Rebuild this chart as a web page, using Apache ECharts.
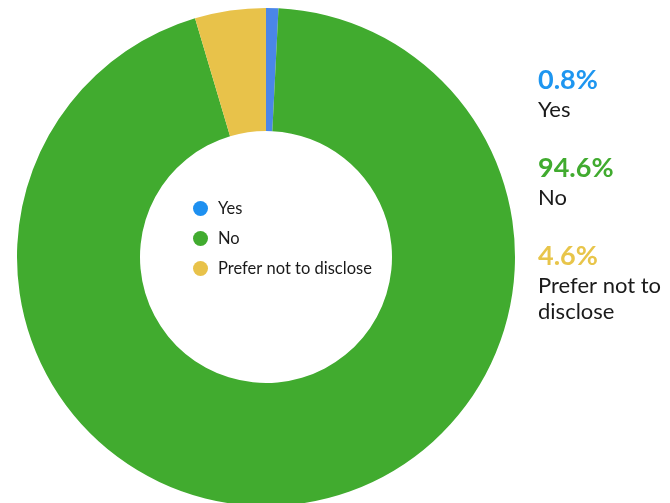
<!DOCTYPE html>
<html><head><meta charset="utf-8">
<script src="https://cdn.jsdelivr.net/npm/echarts@6/dist/echarts.min.js"></script>
<style>html,body{margin:0;padding:0;background:#fff}#c{width:670px;height:503px}</style>
</head><body><div id="c"></div>
<script>
const categories = ['Yes', 'No', 'Prefer not to disclose'];
const percents = [0.8, 94.6, 4.6];
const sliceColors = ['#4a86e8', '#41ab2f', '#e8c24a'];
const legendColors = ['#1e90f0', '#41ab2f', '#e8c24a'];
const labelColors = ['#1e96f0', '#41ab2f', '#e8c54a'];

const chart = echarts.init(document.getElementById('c'), null, {renderer: 'canvas'});
const rich = {name: {fontFamily: 'Lato', fontSize: 22, color: '#1a1a1a', lineHeight: 26}};
categories.forEach((c, i) => {
  rich['p' + i] = {fontFamily: 'Lato', fontWeight: 'bold', fontSize: 27, color: labelColors[i], lineHeight: 33};
});
chart.setOption({
  animation: false,
  legend: [
    {
      orient: 'vertical', left: 188, top: 195, icon: 'circle',
      itemWidth: 15, itemHeight: 15, itemGap: 13,
      textStyle: {fontFamily: 'Lato', fontSize: 16.5, lineHeight: 16, color: '#1a1a1a', padding: [0, 0, 0, 5]},
      data: categories.map((c, i) => ({name: c, itemStyle: {color: legendColors[i]}}))
    },
    {
      orient: 'vertical', left: 528, top: 62, icon: 'none',
      itemWidth: 0, itemHeight: 0, itemGap: 34, selectedMode: false,
      textStyle: {rich: rich},
      formatter: function (name) {
        const i = categories.indexOf(name);
        const nm = name.replace('not to ', 'not to\n');
        return '{p' + i + '|' + percents[i].toFixed(1) + '%}\n' +
          nm.split('\n').map(s => '{name|' + s + '}').join('\n');
      },
      data: categories
    }
  ],
  series: [{
    type: 'pie', center: [266, 257], radius: [126, 249],
    startAngle: 90, clockwise: true,
    label: {show: false}, labelLine: {show: false},
    emphasis: {disabled: true},
    data: categories.map((c, i) => ({name: c, value: percents[i], itemStyle: {color: sliceColors[i]}}))
  }]
});
</script></body></html>
